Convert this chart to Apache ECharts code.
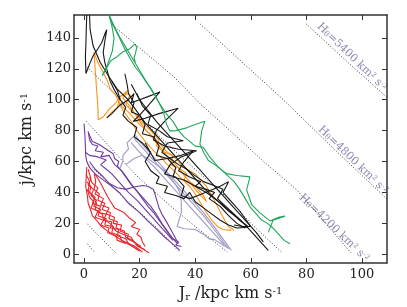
<!DOCTYPE html>
<html><head><meta charset="utf-8">
<script src="https://cdn.jsdelivr.net/npm/echarts@6/dist/echarts.min.js"></script>
<style>html,body{margin:0;padding:0;background:#fff}#c{width:407px;height:307px}</style>
</head><body><div id="c"></div>
<script>
const xTicks=[0,20,40,60,80,100];
const yTicks=[0,20,40,60,80,100,120,140];
const energyLabels=['5400','4800','4200'];
// iso-energy contours (Jr, j)
const contours=[
 [[1.2,6.8],[3.8,1.3]],
 [[1.2,19.7],[5,12.5],[11.4,1]],
 [[1.2,59],[5.4,52],[14,37],[22,24],[28,14],[34,2]],
 [[0.8,86],[6,76],[13,62],[20,49],[30,33],[40,18],[51.5,1.5]],
 [[1.2,121],[5.4,113.6],[15,97],[25,80],[35,63],[45,47],[52.5,35],[60,20],[71,1.5]],
 [[10.2,148.5],[20,133.5],[32.4,114.7],[42,97],[52.5,80],[64,61],[76.5,41.7],[86,22],[96,1]],
 [[41.7,149.1],[52.5,131.5],[71.1,101],[90,68],[108.6,36.4],[112,30]],
 [[79.9,149.1],[95,124],[109,101.5],[112,96.5]]
];
const redTracks=[
 [[1,56.5],[0.8,50],[0.6,44],[1.2,38],[1.5,33],[2.5,28],[3,25],[5,21],[6,18.5],[8.5,15],[11,12],[14,8.5],[17,5.5],[19.5,3]],
 [[1.5,55],[2.5,49],[1.5,45],[3.5,42],[2.5,38],[4.5,35],[3.5,31],[6,29],[5,25],[8,23],[7.5,19],[10.5,18],[10,14],[13,12],[13.5,9],[16,7],[18,4.5],[20,2]],
 [[3.7,52],[4.2,47],[3.6,42],[5.5,39],[5,35],[7.5,33],[6.5,29],[9.5,27],[9,23],[12,21],[11.5,17],[14.5,15],[15,11],[17.5,9],[19,6],[21.5,3],[23.4,0.8]],
 [[1,47],[2.5,44],[2,40],[4,37],[3,33],[6,31],[5,27],[8,26],[7,22],[10,21],[9.5,17],[12.5,16],[12,12],[15,10],[16,7],[18.5,5],[21,1.5]],
 [[4,52],[6,46],[8.4,37.5],[9.6,34],[11,30],[14.4,27],[16,24],[18.6,20.5],[17,18],[20,16],[19,13],[20.5,11],[21,8],[22,5]],
 [[2,50],[3,46],[5,43],[4,39],[7,36],[6,32],[9,30],[8,26],[11,24],[10.5,20],[13.5,19],[13,15],[16,13],[15.5,10],[18,8],[19.5,5],[22,3]],
 [[1.2,42],[2,37],[3.5,34],[2.5,30],[5,28],[4,24],[7,22],[6,19],[9,17],[8.5,14],[11.5,12],[12,9],[15,7]],
 [[0.7,52],[2,47],[1.5,41],[3,38],[4.5,33],[4,29],[6.5,26],[7,23],[10,19],[11.5,15],[14,13],[17,11],[18,8],[20.5,5]]
];
const purpleTracks=[
 [[0,84.5],[0.3,78],[0.5,70],[0.6,64],[1,60],[2,56],[4,52],[7,48],[10,44],[13,39.5],[16,33],[20,27],[23,21.5],[26,16.5],[28.5,12],[31,8],[33,5],[34.5,2.5]],
 [[1.5,79.5],[2,74],[3,71],[5,70],[4,67],[7,66],[6,63],[9,64],[10,61],[11,58],[13,55],[15,50],[17,45],[19,41],[21,36],[23,31],[25,27],[27,22],[29,17],[31,12],[32.5,9],[33.5,7]],
 [[1.5,79],[3,73],[5.5,71],[8,68],[10.5,65],[11,62],[12.5,60],[12,57],[14,53],[16,48],[18,43],[21,37],[24,31],[26,26],[28,20],[30,15],[32,10],[34,8],[33,6],[35,5]],
 [[2,60],[4,55],[7,50],[9,46],[12,43],[15,42],[18,43.5],[21,44.5],[23,44],[25,42],[26,36],[27,30],[28,26],[30,20],[31.5,15],[33,10],[34,7]],
 [[0.5,66],[2,64],[5,63],[8,61],[6,58],[8,55],[10,52],[12,48],[14,44],[16,40],[19,35],[22,29],[25,23],[28,17],[30,13],[32,9]]
];
const greyTracks=[
 [[18.5,77],[20,73],[22,69],[24,65],[26,61],[28,57],[30.5,52],[33,47],[35.5,42],[38,37],[40.5,32],[43,27],[45.5,21],[48,15],[50,10],[52,5],[53,2.5]],
 [[18,75],[20.5,70],[23,65],[25.5,60],[28,55],[31,49],[34,43],[37,37],[40,31],[43,25],[46,18],[48.5,12],[50.5,7],[52,3.5]],
 [[17,72],[19.5,67],[22,62],[25,57],[28,51],[31,45],[34,39],[37,33],[40,27],[43,21],[46,15],[48.5,10],[50.5,6]],
 [[13,56],[14,60],[14,64],[16,68],[15.5,72],[17,75],[18.5,77]],
 [[15,58],[18,62],[21,64],[23,62],[26,58],[29,54],[31,50],[33,45],[34.5,40],[35,34],[35,27],[34,21],[33.5,18],[36,16.5],[40,16],[43,13],[45,10],[47,9.5],[50,6],[52,4]]
];
const orangeTracks=[
 [[3.6,130.5],[4,120],[4.6,105],[5,95],[5.1,87],[7,89],[9.4,94.5],[11.5,98],[13,102],[15.9,106],[14,101],[16,97],[18,92],[20,86],[22,81],[24,77],[26,72],[28,68],[30,63],[32,60],[34,56],[36,51],[38,47],[40,42],[42,38],[44,34.5]],
 [[3.6,130.5],[5,124],[6.9,117.8],[8.5,112],[9.4,107],[11,104],[12.5,99],[14,95],[16,92],[18,88],[20,84],[23,79],[26,74],[28,70],[30,66],[33,62],[35,58],[37,55],[40,52],[42,48],[44,44],[46,38],[48,31],[50,24],[52,18],[54,15.5]],
 [[8.2,88.2],[10,92],[12,95],[13,102],[15,104],[16.5,103],[15,97],[17,93],[19,90],[21,85],[24,80],[27,74],[26,70],[29,66],[32,64],[31,58],[34,56],[37,52],[36,48],[39,46],[41,42],[43,38],[44,34]],
 [[12,100],[14,93],[17,86],[19,80],[22,73],[25,67],[28,62],[30,58],[33,53],[35,49],[38,44],[40,39],[42,33],[44,27],[46,22],[48,18],[50,16],[53,15.5]]
];
const blackTracks=[
 [[1,154.8],[0.8,145],[0.7,137],[0.5,128],[0.7,117],[2,123],[3.3,128.4],[5,133],[6.4,137],[7.6,143],[8.2,145.3],[7.5,138],[6.9,130.5],[7.5,124],[9.4,112],[11,106],[13,100]],
 [[2,154.8],[2.2,145.3],[3.3,134.7],[5.8,124.2],[8.7,115.7],[11.8,107.2],[15.4,100.9],[18,95],[20,90],[22,85],[25,79],[28,73],[31,67],[34,61],[37,55],[40,49],[43,43],[46,38],[49,33],[52,28],[55,24],[58,19],[61,13],[64,7],[66.3,2.5]],
 [[14.7,116.8],[15.5,110],[16,104],[18,98],[17,92],[20,90],[22,84],[21,78],[25,76],[27,70],[26,64],[30,62],[33,56],[32,50],[36,48],[40,44],[44,40],[47,36],[50,32],[53,27],[56,22],[59,18]],
 [[8.2,88.2],[10,91],[13,96.6],[16,100],[18,104],[17,98],[20,100],[23,102],[27.3,105],[23,96],[20,90],[17.7,86],[22,88],[27,91],[33.9,94.5],[29,86],[26,80],[25,74],[29,70],[34,68],[40.5,67],[35,63],[31,58],[29,52],[33,50],[36,44],[35,38],[38,36],[41,38],[45,41],[49,44],[52,47],[50,40],[53,34],[56,28],[58,23],[60,18],[57,18],[54,19]],
 [[10,112],[12,106],[13,100],[15,95],[14,90],[16,86],[19,82],[18,76],[21,72],[24,66],[22,60],[24,54],[27,50],[26,46],[30,44],[29,40],[33,38],[36,36],[38,40],[40,34],[43,30],[46,26],[49,22],[52,19],[55,17],[59,17.5]],
 [[17,110],[20,100],[23,93],[26,86],[29,80],[32,74],[35,68],[38,62],[41,56],[44,50],[47,44],[50,38],[53,32],[56,26],[59,20],[62,14],[64.5,8]],
 [[19,104],[21,96],[24,90],[23,84],[27,80],[30,76],[35.7,73.4],[30,72],[28,66],[31,62],[34,58],[37,55],[39,52],[43,47],[46,45],[50,42],[48,36],[51,31],[54,26],[57,21]],
 [[22,72],[25.5,60.7],[30,62],[35,64],[39.3,67],[36,60],[34,54],[38,50],[42,47],[40,44],[44,42],[47,40],[45,36],[49,31],[52,25],[55,20],[58,17]]
];
const greenTracks=[
 [[9,154.8],[10.5,148],[12.5,141],[14.4,133.7],[16.5,127],[18.5,121],[20.4,116.8],[22.5,111],[23.7,108.3],[25.2,104],[27,98],[28.5,92.4],[29.7,84],[30.9,79.7],[33,80],[36.9,81.8],[40,84],[43.5,86.1],[42.3,79.7],[41.7,71.2],[43,66],[44.7,60.7],[47,58],[51.3,52.2],[55,51],[59.7,50.1],[58.5,41.7],[60.3,32.2],[63.3,26.8],[66.9,21.6],[70,24],[72.3,24.7],[68,22],[66.3,14.2]],
 [[9,154.8],[11,147],[13,140],[15,134],[17,128],[19,122],[21,116],[23,110],[25,104],[27,98],[28.5,94],[30,90],[32,86],[34,80],[36,76],[38,73],[40,70],[42.9,69.2],[45.3,62.8],[48,57],[51,52],[54,47],[56,42],[58,36],[60,30],[62,26],[64,22],[66,20],[68,17],[70,13],[72,9],[74.1,6.8]],
 [[6.6,115.7],[8,120],[9.6,125.2],[12,128],[14,131],[16.5,133],[18.3,136],[19,134],[18.5,130],[18,127],[18.5,124]],
 [[9,154.8],[10,148],[10.8,140],[10.2,131.5],[8.5,123],[6.6,115.7]]
];

const FONT='DejaVu Serif';
const groups=[
 {tracks:contours,color:'#333',dotted:true},
 {tracks:redTracks,color:'#e8262b'},
 {tracks:purpleTracks,color:'#6e3c9e'},
 {tracks:greyTracks,color:'#9c9ac4'},
 {tracks:orangeTracks,color:'#f7941d'},
 {tracks:blackTracks,color:'#151515'},
 {tracks:greenTracks,color:'#22a55c'}
];
const series=[];
groups.forEach(g=>g.tracks.forEach(t=>series.push({
  type:'line',data:t,showSymbol:false,symbol:'none',animation:false,silent:true,clip:true,
  lineStyle:{color:g.color,width:g.dotted?1:1.1,type:g.dotted?[1,2]:'solid'}
})));

const axisCommon={type:'value',splitLine:{show:false},
  axisLine:{show:true,onZero:false,lineStyle:{color:'#333',width:1.5}}};
const chart=echarts.init(document.getElementById('c'),null,{renderer:'canvas'});
const labelPos=[[352,57],[353,160],[334,228]];
chart.setOption({
  animation:false,
  grid:{left:74,right:20,top:15,bottom:39,containLabel:false},
  xAxis:[
   Object.assign({},axisCommon,{position:'bottom',min:-3.6,max:109,
     axisTick:{show:true,inside:true,length:5,customValues:xTicks,lineStyle:{color:'#333'}},
     axisLabel:{customValues:xTicks,fontFamily:FONT,fontSize:13,color:'#222',margin:5},
     name:'{a|J}{s|r}{a| /kpc km s}{p|-1}',nameLocation:'middle',nameGap:19,
     nameTextStyle:{rich:{a:{fontFamily:FONT,fontSize:16,color:'#222'},s:{fontFamily:FONT,fontSize:10,color:'#222',verticalAlign:'bottom'},p:{fontFamily:FONT,fontSize:10,color:'#222',verticalAlign:'top'}}}}),
   Object.assign({},axisCommon,{position:'top',min:-3.6,max:109,
     axisTick:{show:true,inside:true,length:5,customValues:xTicks,lineStyle:{color:'#333'}},
     axisLabel:{show:false}})
  ],
  yAxis:[
   Object.assign({},axisCommon,{position:'left',min:-5.7,max:154.8,
     axisTick:{show:true,inside:true,length:5,customValues:yTicks,lineStyle:{color:'#333'}},
     axisLabel:{customValues:yTicks,fontFamily:FONT,fontSize:13,color:'#222',margin:3},
     name:'{a|j/kpc km s}{p|-1}',nameLocation:'middle',nameGap:32,nameRotate:90,
     nameTextStyle:{rich:{a:{fontFamily:FONT,fontSize:16,color:'#222'},p:{fontFamily:FONT,fontSize:10,color:'#222',verticalAlign:'top'}}}}),
   Object.assign({},axisCommon,{position:'right',min:-5.7,max:154.8,
     axisTick:{show:true,inside:true,length:5,customValues:yTicks,lineStyle:{color:'#333'}},
     axisLabel:{show:false}})
  ],
  series:series,
  graphic:energyLabels.map((e,i)=>({type:'text',x:labelPos[i][0],y:labelPos[i][1],rotation:-44*Math.PI/180,silent:true,
    style:{text:'{a|H}{s|θ}{a|='+e+' km}{p|2}{a| s}{p|-2}',align:'center',verticalAlign:'middle',
      rich:{a:{fontFamily:FONT,fontSize:11,fill:'#8a88b0'},s:{fontFamily:FONT,fontSize:8,fill:'#8a88b0',verticalAlign:'bottom'},p:{fontFamily:FONT,fontSize:7,fill:'#8a88b0',verticalAlign:'top'}}}}))
});
</script></body></html>
